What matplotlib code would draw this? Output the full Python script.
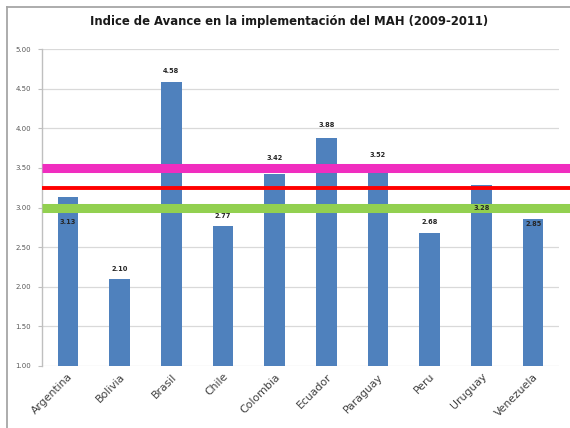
import matplotlib
matplotlib.use("Agg")
import matplotlib.pyplot as plt
from matplotlib.lines import Line2D
import numpy as np

countries = ["Argentina", "Bolivia", "Brasil", "Chile", "Colombia", "Ecuador",
             "Paraguay", "Peru", "Uruguay", "Venezuela"]
values = [3.13, 2.10, 4.58, 2.77, 3.42, 3.88, 3.52, 2.68, 3.28, 2.85]
value_labels = ["3.13", "2.10", "4.58", "2.77", "3.42", "3.88", "3.52", "2.68", "3.28", "2.85"]
ref_levels = [3.50, 3.25, 3.00]
ref_colors = ["#f02dbf", "#ff0000", "#92d050"]
ref_widths = [6.5, 2.8, 6.5]
yticks = [1.0, 1.5, 2.0, 2.5, 3.0, 3.5, 4.0, 4.5, 5.0]
title = "Indice de Avance en la implementación del MAH (2009-2011)"

# label offsets in points (positive = above bar top)
label_offsets = [-18, 7, 8, 7, 12, 9, 8, 8, -16, -3]

W, H = 570, 428
fig = plt.figure(figsize=(W / 100, H / 100), dpi=100)
ax = fig.add_axes([42 / W, 1 - 366 / H, 517 / W, 317 / H])

x = np.arange(len(countries))
ax.bar(x, values, width=0.4, color="#4f81bd", bottom=0, zorder=2)
ax.set_xlim(-0.5, len(countries) - 0.5)
ax.set_ylim(1.0, 5.0)
ax.set_yticks(yticks)
ax.set_yticklabels([f"{v:.2f}" for v in yticks], fontsize=5, color="#595959")
ax.set_xticks(x)
ax.set_xticklabels(countries, rotation=45, ha="right", rotation_mode="anchor",
                   fontsize=7.8, color="#404040")
ax.tick_params(axis="x", length=0, pad=4)
ax.tick_params(axis="y", length=3, width=0.8, color="#bfbfbf", pad=5)
ax.grid(axis="y", color="#d9d9d9", linewidth=0.9, zorder=0)
for s in ["top", "right", "bottom"]:
    ax.spines[s].set_visible(False)
ax.spines["left"].set_color("#bfbfbf")
ax.spines["left"].set_linewidth(1.0)

for xi, v, lab, off in zip(x, values, value_labels, label_offsets):
    ax.annotate(lab, (xi, v), xytext=(0, off), textcoords="offset points",
                ha="center", va="center", fontsize=4.8, fontweight="bold",
                color="#262626", zorder=5)

for lvl, c, lw in zip(ref_levels, ref_colors, ref_widths):
    ax.axhline(lvl, xmin=0, xmax=(W - 42) / 517, color=c, linewidth=lw,
               clip_on=False, zorder=4, solid_capstyle="butt")

fig.text(289 / W, 1 - 22 / H, title, ha="center", va="center",
         fontsize=8.4, fontweight="bold", color="#1a1a1a")

# outer chart frame (top and left visible)
fig.add_artist(Line2D([7 / W, 7 / W], [0, 1 - 7 / H], color="#a6a6a6", linewidth=1.3,
                      transform=fig.transFigure))
fig.add_artist(Line2D([7 / W, 1], [1 - 7 / H, 1 - 7 / H], color="#a6a6a6", linewidth=1.3,
                      transform=fig.transFigure))

fig.savefig("out.png", dpi=100)
